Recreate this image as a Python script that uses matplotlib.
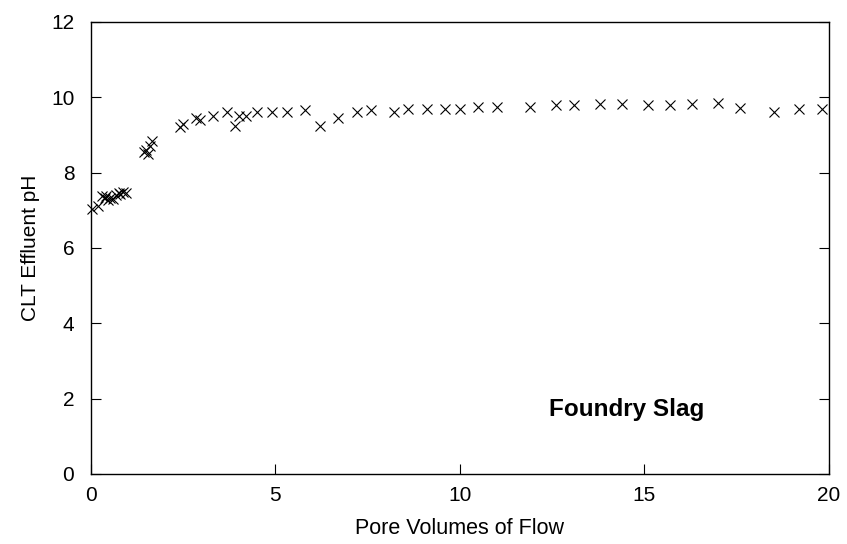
import matplotlib
matplotlib.use("Agg")
import matplotlib.pyplot as plt

pore_volumes = [0.02, 0.2, 0.3, 0.37, 0.42, 0.47, 0.52, 0.6, 0.67, 0.75, 0.8, 0.88, 0.95,
                1.45, 1.5, 1.55, 1.6, 1.65,
                2.4, 2.5, 2.85, 2.95, 3.3, 3.7, 3.9, 4.0, 4.2, 4.5, 4.9, 5.3, 5.8,
                6.2, 6.7, 7.2, 7.6, 8.2, 8.6, 9.1, 9.6, 10.0, 10.5, 11.0, 11.9,
                12.6, 13.1, 13.8, 14.4, 15.1, 15.7, 16.3, 17.0, 17.6, 18.5, 19.2, 19.8]
ph_values = [7.04, 7.12, 7.38, 7.33, 7.38, 7.28, 7.32, 7.3, 7.4, 7.45, 7.42, 7.48, 7.46,
             8.55, 8.6, 8.5, 8.7, 8.85,
             9.2, 9.3, 9.45, 9.4, 9.5, 9.6, 9.25, 9.5, 9.5, 9.6, 9.6, 9.62, 9.65,
             9.25, 9.45, 9.6, 9.65, 9.6, 9.7, 9.7, 9.7, 9.7, 9.75, 9.75, 9.75,
             9.8, 9.8, 9.82, 9.82, 9.8, 9.8, 9.82, 9.85, 9.72, 9.6, 9.7, 9.7]

x_ticks = [0, 5, 10, 15, 20]
y_ticks = [0, 2, 4, 6, 8, 10, 12]

plt.rcParams['font.family'] = ['Liberation Sans', 'DejaVu Sans']

fig = plt.figure(figsize=(8.47, 5.44), dpi=100)
ax = fig.add_axes([0.1074, 0.1287, 0.8713, 0.8309])
ax.plot(pore_volumes, ph_values, linestyle='none', marker='x', color='black',
        markersize=7, markeredgewidth=0.8, clip_on=False)
ax.set_xlim(0, 20)
ax.set_ylim(0, 12)
ax.set_xticks(x_ticks)
ax.set_yticks(y_ticks)
ax.tick_params(direction='in', length=7.5, width=0.8, labelsize=15,
               right=True, top=False)
ax.tick_params(axis='x', pad=9)
ax.tick_params(axis='y', pad=12)
for s in ax.spines.values():
    s.set_linewidth(1.0)
ax.set_xlabel('Pore Volumes of Flow', fontsize=15.5, labelpad=9)
ax.set_ylabel('CLT Effluent pH', fontsize=15, labelpad=8)
ax.text(12.4, 1.7, 'Foundry Slag', fontsize=17.5, fontweight='bold', va='center', ha='left')

fig.savefig('out.png', dpi=100)
